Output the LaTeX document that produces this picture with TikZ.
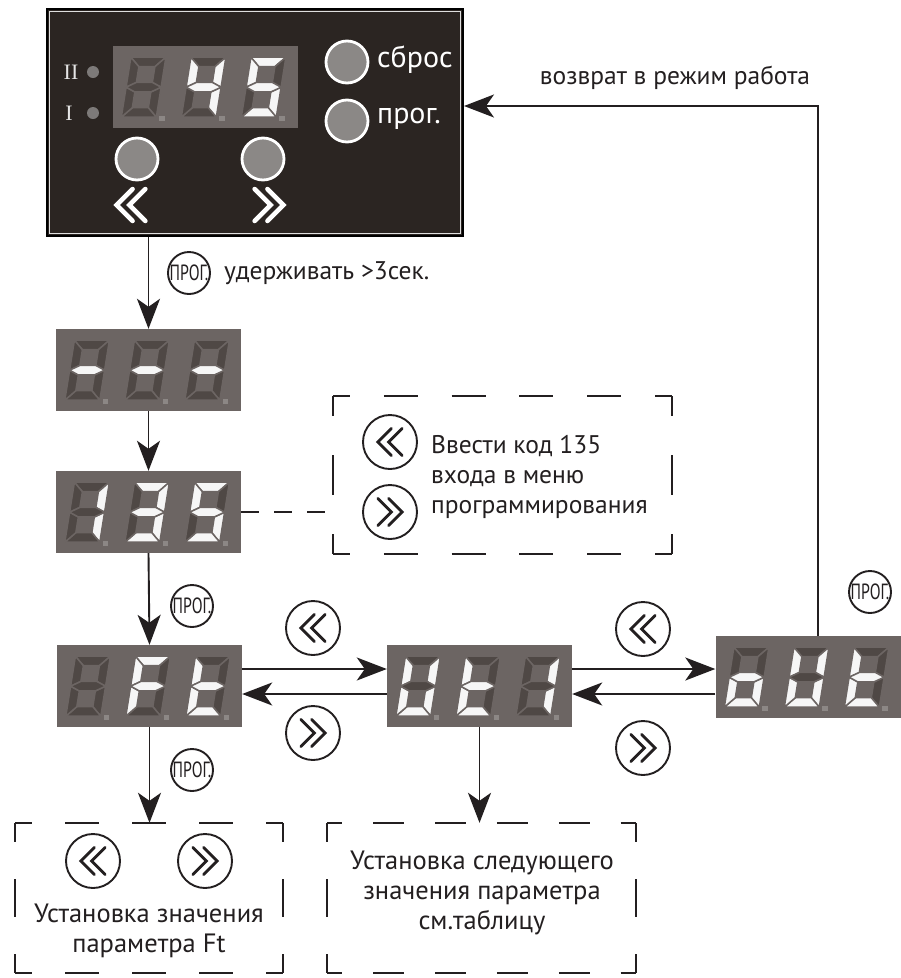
\documentclass[tikz,border=0pt]{standalone}
\usepackage{fontspec}
\usepackage{graphicx}
\setmainfont{PT Sans}
\newfontfamily\serifrm{Liberation Serif}
\usetikzlibrary{arrows.meta}
\definecolor{panelc}{HTML}{2B2522}
\definecolor{dispc}{HTML}{6C6563}
\definecolor{segoff}{HTML}{4F4845}
\definecolor{segon}{HTML}{F6F6F6}
\definecolor{dpc}{HTML}{8C8785}
\definecolor{btnc}{HTML}{8B8886}
\definecolor{linec}{HTML}{231F20}
\makeatletter
\newcommand\seg[3]{\in@{#1}{#2}\ifin@\def\segc{segon}\else\def\segc{segoff}\fi
  \filldraw[fill=\segc,draw=dispc,line width=1.5pt] #3;}
\makeatother
\newcommand\onedigit[2]{%
  \begin{scope}[shift={(#1,11)},xslant=0.16]
    \seg{a}{#2}{(0,60)--(35,60)--(25.5,50.5)--(9.5,50.5)--cycle}
    \seg{b}{#2}{(35,60)--(35,30)--(25.5,34.75)--(25.5,50.5)--cycle}
    \seg{c}{#2}{(35,30)--(35,0)--(25.5,9.5)--(25.5,25.25)--cycle}
    \seg{d}{#2}{(0,0)--(9.5,9.5)--(25.5,9.5)--(35,0)--cycle}
    \seg{e}{#2}{(0,30)--(0,0)--(9.5,9.5)--(9.5,25.25)--cycle}
    \seg{f}{#2}{(0,60)--(0,30)--(9.5,34.75)--(9.5,50.5)--cycle}
    \seg{g}{#2}{(0,30)--(9.5,34.75)--(25.5,34.75)--(35,30)--(25.5,25.25)--(9.5,25.25)--cycle}
  \end{scope}
  \fill[dpc] (#1+38,7) rectangle ++(5.5,5.5);}
\newcommand\threedig[4]{%
  \begin{scope}[shift={(#1.south west)}]
    \onedigit{9}{#2}\onedigit{69}{#3}\onedigit{129}{#4}
  \end{scope}}
\newcommand\chev[4]{%
  \begin{scope}[shift={(#1.center)},xscale=#2,scale=#3]
    \draw[#4] (1,10)--(-9,0)--(1,-10) (9,10)--(-1,0)--(9,-10);
  \end{scope}}
\newcommand\dside[5]{%
  \pgfmathsetmacro\dlen{(abs(#3-#1)+abs(#4-#2))/#5/2}%
  \pgfmathsetmacro\dph{\dlen/2}%
  \draw[dashl,dash pattern=on \dlen pt off \dlen pt,dash phase=\dph pt] (#1,-#2) -- (#3,-#4);}
\newcommand\dbox[7]{%
  \node[minimum width={#4-#2},minimum height={#5-#3},inner sep=0] (#1) at ({(#2+#4)/2},{-(#3+#5)/2}) {};
  \dside{#2}{#3}{#4}{#3}{#6}
  \dside{#2}{#5}{#4}{#5}{#6}
  \dside{#2}{#3}{#2}{#5}{#7}
  \dside{#4}{#3}{#4}{#5}{#7}}
\newcommand\progtxt{{\fontsize{22}{22}\selectfont\scalebox{0.72}[1]{ПРОГ.}}}
\begin{document}
\begin{tikzpicture}[x=1pt,y=1pt,
  disp/.style={rectangle,fill=dispc,minimum width=185,minimum height=82,inner sep=0},
  arr/.style={draw=linec,line width=1.9pt,-{Stealth[length=30pt,width=23pt,inset=8pt]}},
  dashl/.style={draw=linec,line width=1.9pt},
  prog/.style={circle,draw=linec,line width=1.9pt,minimum size=42,inner sep=0,text=linec},
  cbtn/.style={circle,draw=linec,line width=1.9pt,minimum size=54,inner sep=0},
  chevk/.style={draw=linec,line width=2.9pt,line cap=round},
  chevw/.style={draw=white,line width=4.5pt,line cap=round},
  pbtn/.style={circle,fill=btnc,draw=white,line width=2.8pt,minimum size=42,inner sep=0},
  led/.style={circle,fill=btnc!90!black,minimum size=12,inner sep=0},
  txt/.style={font=\fontsize{25.5}{30}\selectfont,text=linec,inner sep=0},
  btxt/.style={font=\fontsize{26.5}{30}\selectfont,text=linec,inner sep=0},
  ptxt/.style={font=\fontsize{30}{30}\selectfont,text=white,inner sep=0},
  ser/.style={font=\serifrm\fontsize{22}{22}\selectfont,text=white!80!gray,inner sep=0}]
\useasboundingbox (0,0) rectangle (901,-978);
\fill[white] (0,0) rectangle (901,-978);
% main panel
\node[rectangle,fill=panelc,draw=black,line width=2pt,minimum width=416,minimum height=227,inner sep=0] (panel) at (255,-122.5) {};
\draw[white!75!gray,line width=1.2pt] ([shift={(3.5,-3.5)}]panel.north west) rectangle ([shift={(-3.5,3.5)}]panel.south east);
\node[disp] (d0) at (205,-87) {};
\threedig{d0}{}{bcfg}{acdfg}
\node[ser] (t8) at (71,-72) {II};
\node[ser] (t9) at (69,-113) {I};
\node[led] (l1) at (93,-72) {};
\node[led] (l2) at (93,-113) {};
\node[pbtn] (bs) at (347,-62) {};
\node[pbtn] (bp) at (347,-121) {};
\node[pbtn] (bl) at (137,-159) {};
\node[pbtn] (br) at (263,-159) {};
\node[ptxt,anchor=west] (t6) at (377,-60) {сброс};
\node[ptxt,anchor=west] (t7) at (377,-119) {прог.};
\coordinate (wl) at (131,-205);
\coordinate (wr) at (269,-205);
\chev{wl}{1}{1.6}{chevw}
\chev{wr}{-1}{1.6}{chevw}
% displays
\node[disp] (d1) at (148.5,-370) {};
\threedig{d1}{g}{g}{g}
\node[disp] (d2) at (148.5,-512) {};
\threedig{d2}{bc}{abcdg}{acdfg}
\node[disp] (d3) at (149.5,-686) {};
\threedig{d3}{}{aefg}{defg}
\node[disp] (d4) at (479.5,-686) {};
\threedig{d4}{bcdef}{defg}{bc}
\node[disp] (d5) at (808,-677) {};
\threedig{d5}{cdeg}{bcdef}{defg}
% dashed boxes
\dbox{cbox}{333}{396}{672}{554}{5}{2}
\dbox{box1}{15}{823}{283}{973}{4}{2}
\dbox{box2}{327}{823}{636}{973}{5}{2}
% prog circles
\node[prog] (p1) at (189,-273) {\progtxt};
\node[prog] (p2) at (192,-606) {\progtxt};
\node[prog] (p3) at (192,-770) {\progtxt};
\node[prog] (p4) at (870,-592) {\progtxt};
% chevron circles
\node[cbtn] (cl1) at (313,-628) {}; \chev{cl1}{1}{1.35}{chevk}
\node[cbtn] (cr1) at (313,-733) {}; \chev{cr1}{-1}{1.35}{chevk}
\node[cbtn] (cl2) at (643,-629) {}; \chev{cl2}{1}{1.35}{chevk}
\node[cbtn] (cr2) at (643,-748) {}; \chev{cr2}{-1}{1.35}{chevk}
\node[cbtn] (cl3) at (390,-442) {}; \chev{cl3}{1}{1.35}{chevk}
\node[cbtn] (cr3) at (390,-512) {}; \chev{cr3}{-1}{1.35}{chevk}
\node[cbtn] (cl4) at (93,-861) {}; \chev{cl4}{1}{1.35}{chevk}
\node[cbtn] (cr4) at (205,-861) {}; \chev{cr4}{-1}{1.35}{chevk}
% texts
\node[txt,anchor=west] (t1) at (224,-273) {удерживать >3сек.};
\node[txt] (t2) at (675,-78) {возврат в режим работа};
\node[txt,anchor=west,align=left] (t3) at (431,-477) {Ввести код 135\\входа в меню\\программирования};
\node[btxt,align=center] (t4) at (149,-931) {Установка значения\\параметра Ft};
\node[btxt,align=center] (t5) at (482,-893) {Установка следующего\\значения параметра\\см.таблицу};
% connectors
\coordinate (ya) at (0,-669);
\coordinate (yb) at (0,-694);
\coordinate (rc) at (818,-106);
\draw[arr] (panel.south -| d1.north) -- (d1.north);
\draw[arr] (d1.south) -- (d2.north);
\draw[arr] (d2.south) -- (d3.north);
\draw[arr] (d3.south) -- (d3.south |- box1.north);
\draw[arr] (d4.south) -- (d4.south |- box2.north);
\draw[arr] (d3.east |- ya) -- (d4.west |- ya);
\draw[arr] (d4.west |- yb) -- (d3.east |- yb);
\draw[arr] (d4.east |- ya) -- (d5.west |- ya);
\draw[arr] (d5.west |- yb) -- (d4.east |- yb);
\draw[arr] (d5.north -| rc) -- (rc) -- (rc -| panel.east);
\draw[dashl,dash pattern=on 18pt off 15pt] (d2.east) -- (d2.east -| cbox.west);
\end{tikzpicture}
\end{document}
